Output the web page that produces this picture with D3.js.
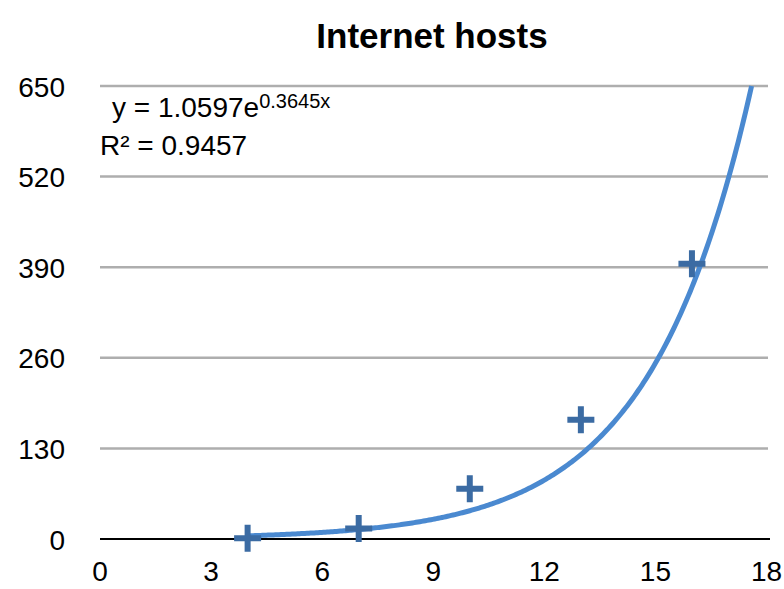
<!DOCTYPE html>
<html><head><meta charset="utf-8">
<script src="https://cdn.jsdelivr.net/npm/d3@7"></script>
<style>body{margin:0;background:#fff}</style>
</head><body>
<svg id="c" width="784" height="589"></svg>
<script>
const xValues = [4, 7, 10, 13, 16];
const yValues = [1, 15, 72, 171, 395];
const xTicks = [0, 3, 6, 9, 12, 15, 18];
const yTicks = [0, 130, 260, 390, 520, 650];
const trendA = 1.0597, trendB = 0.3645;
const rSquared = "0.9457";
const title = "Internet hosts";

const svg = d3.select("#c");
const font = "'Liberation Sans', Arial, Helvetica, sans-serif";
const x = d3.scaleLinear().domain([0, 18]).range([99.5, 766]);
const y = d3.scaleLinear().domain([0, 650]).range([539, 86]);

// grid
svg.append("g").selectAll("line").data(yTicks.filter(d => d > 0)).join("line")
  .attr("x1", 100).attr("x2", 768).attr("y1", d => y(d)).attr("y2", d => y(d))
  .attr("stroke", "#aeaeae").attr("stroke-width", 2.5);

// y axis labels
const yAxis = d3.axisLeft(y).tickValues(yTicks).tickSize(0).tickPadding(0);
const gy = svg.append("g").attr("transform", "translate(65,0)").call(yAxis);
gy.select(".domain").remove();
gy.selectAll("text").attr("font-family", font).attr("font-size", 28).attr("fill", "#000").attr("dy", "0.36em");

// x axis labels
const xAxis = d3.axisBottom(x).tickValues(xTicks).tickSize(0).tickPadding(0);
const gx = svg.append("g").attr("transform", "translate(0,561)").call(xAxis);
gx.select(".domain").remove();
gx.selectAll("text").attr("font-family", font).attr("font-size", 28).attr("fill", "#000").attr("dy", "0.71em");

// baseline
svg.append("line").attr("x1", 100).attr("x2", 770).attr("y1", y(0)).attr("y2", y(0))
  .attr("stroke", "#000").attr("stroke-width", 2);

// trendline
const xEnd = Math.log(650 / trendA) / trendB;
const tx = d3.range(xValues[0], xEnd, 0.05).concat([xEnd]);
svg.append("path").datum(tx)
  .attr("d", d3.line().x(d => x(d)).y(d => y(trendA * Math.exp(trendB * d))))
  .attr("fill", "none").attr("stroke", "#4a89d0").attr("stroke-width", 5).attr("stroke-linecap", "butt");

// markers
const pts = xValues.map((v, i) => [v, yValues[i]]);
svg.append("g").selectAll("path").data(pts).join("path")
  .attr("transform", d => `translate(${x(d[0])},${y(d[1])})`)
  .attr("d", "M-13.5,0H13.5M0,-13.5V13.5")
  .attr("stroke", "#3b6ba3").attr("stroke-width", 6).attr("fill", "none");

// title
svg.append("text").attr("x", 432).attr("y", 48).attr("text-anchor", "middle")
  .attr("font-family", font).attr("font-weight", "bold").attr("font-size", 35).text(title);

// equation
const eq = svg.append("text").attr("x", 112).attr("y", 117).attr("font-family", font).attr("font-size", 28);
eq.append("tspan").text("y = " + trendA.toFixed(4) + "e");
eq.append("tspan").attr("dy", -9).attr("font-size", 20).text(trendB.toFixed(4) + "x");
svg.append("text").attr("x", 100).attr("y", 155).attr("font-family", font).attr("font-size", 28).text("R² = " + rSquared);
</script>
</body></html>
